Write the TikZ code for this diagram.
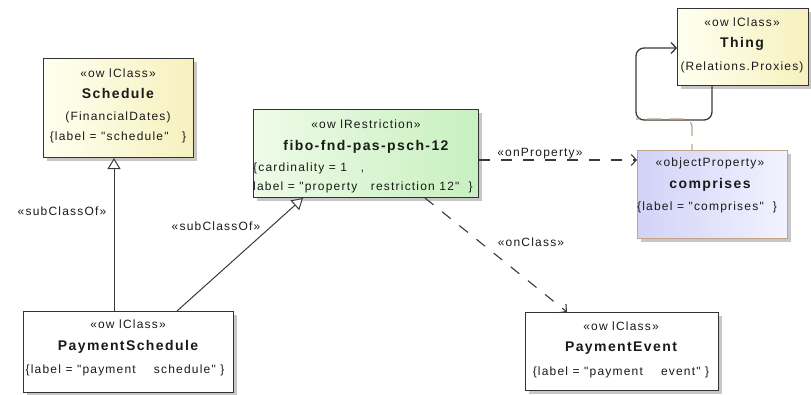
\documentclass[tikz,border=0pt]{standalone}
\usepackage{fontspec}
\setmainfont{Liberation Sans}
\newfontfamily\ls{Liberation Sans}[LetterSpace=10]
\usetikzlibrary{arrows.meta,shadows,calc}
\definecolor{yA}{HTML}{FFFFF0}
\definecolor{yB}{HTML}{F6F1BE}
\definecolor{gA}{HTML}{EEFBE8}
\definecolor{gB}{HTML}{C8F0C0}
\definecolor{pA}{HTML}{D2D2F8}
\definecolor{pB}{HTML}{F2F2FF}
\definecolor{bd}{HTML}{333333}
\definecolor{tan}{HTML}{C4A488}
\definecolor{ln}{HTML}{3A3A3A}
\definecolor{tx}{HTML}{1A1A1A}
\begin{document}
\begin{tikzpicture}[x=1pt,y=-1pt,
  box/.style={draw=bd, line width=1pt, anchor=north west, inner sep=0pt,
    drop shadow={shadow xshift=3pt, shadow yshift=-3pt, fill=black!40, opacity=0.55}},
  st/.style={font=\ls\fontsize{12}{14}\selectfont, inner sep=0pt, text height=8.5pt, text depth=2.5pt, text=tx},
  nm/.style={font=\ls\bfseries\fontsize{14}{16}\selectfont, inner sep=0pt, text height=10pt, text depth=3pt, text=tx},
  gen/.style={draw=ln, line width=1pt, -{Triangle[open, length=11pt, width=13pt, fill=white]}},
  dep/.style={draw=ln, line width=1.1pt, dash pattern=on 11pt off 11pt, -{Straight Barb[length=5pt, width=11pt]}},
  assoc/.style={draw=ln, line width=1.3pt, -{Straight Barb[length=5pt, width=11pt]}}
]
\useasboundingbox (0,0) rectangle (811,394);

% boxes
\node[box, left color=yA, right color=yB, minimum width=150pt, minimum height=99pt] (sch) at (43,58) {};
\node[box, left color=gA, right color=gB, minimum width=225pt, minimum height=88pt] (rs) at (253,109) {};
\node[box, left color=yA, right color=yB, minimum width=131pt, minimum height=77pt] (th) at (677,8) {};
\node[box, draw=tan, left color=pA, right color=pB, minimum width=150pt, minimum height=88pt] (cp) at (637,150) {};
\node[box, fill=white, minimum width=210pt, minimum height=81pt] (ps) at (23,311) {};
\node[box, fill=white, minimum width=193pt, minimum height=78pt] (pe) at (525,312) {};

% Schedule text
\node[st] (sch1) at (118,74) {«ow lClass»};
\node[nm] (sch2) at (118,95) {Schedule};
\node[st] (sch3) at (118,117) {(FinancialDates)};
\node[st] (sch4) at (118,137) {\{label = "schedule"\ \ \ \}};

% Restriction text
\node[st] (rs1) at (366,125) {«ow lRestriction»};
\node[nm] (rs2) at (366,147) {fibo-fnd-pas-psch-12};
\node[st, anchor=west] (rs3) at (253,168) {\{cardinality = 1\ \ \ ,};
\node[st, anchor=west] (rs4) at (253,187) {label = "property\ \ \ restriction 12"\ \ \}};

% Thing text
\node[st] (th1) at (742,23) {«ow lClass»};
\node[nm] (th2) at (742,44) {Thing};
\node[st] (th3) at (742,67) {(Relations.Proxies)};

% comprises text
\node[st] (cp1) at (710,163) {«objectProperty»};
\node[nm] (cp2) at (710,185) {comprises};
\node[st] (cp3) at (707,207) {\{label = "comprises"\ \ \}};

% PaymentSchedule text
\node[st] (ps1) at (128,325) {«ow lClass»};
\node[nm] (ps2) at (128,347) {PaymentSchedule};
\node[st] (ps3) at (125,370) {\{label = "payment\ \ \ \ schedule" \}};

% PaymentEvent text
\node[st] (pe1) at (621,327) {«ow lClass»};
\node[nm] (pe2) at (621,348) {PaymentEvent};
\node[st] (pe3) at (621,372) {\{label = "payment\ \ \ \ event" \}};

% connectors
\draw[gen] ([xshift=91pt]ps.north west) -- ([xshift=71pt]sch.south west);
\draw[gen] ([xshift=154pt]ps.north west) -- ([xshift=50pt]rs.south west);
\draw[dep] (rs.east |- 0,160) -- (cp.west |- 0,160);
\draw[dep] ([xshift=172pt]rs.south west) -- ([xshift=42pt]pe.north west);
\draw[assoc, rounded corners=8pt] ([xshift=35pt]th.south west) -- ++(0,34) -- ++(-76,0) |- ([yshift=-40pt]th.north west);
\draw[tan, line width=1.3pt, dash pattern=on 14pt off 8pt, dash phase=8pt, rounded corners=8pt] ([xshift=55pt]cp.north west) -- ++(0,-31) -- ++(-56,0);

% connector labels
\node[st] (l1) at (62,212) {«subClassOf»};
\node[st] (l2) at (216,227) {«subClassOf»};
\node[st] (l3) at (540,153) {«onProperty»};
\node[st] (l4) at (531,243) {«onClass»};
\end{tikzpicture}
\end{document}
